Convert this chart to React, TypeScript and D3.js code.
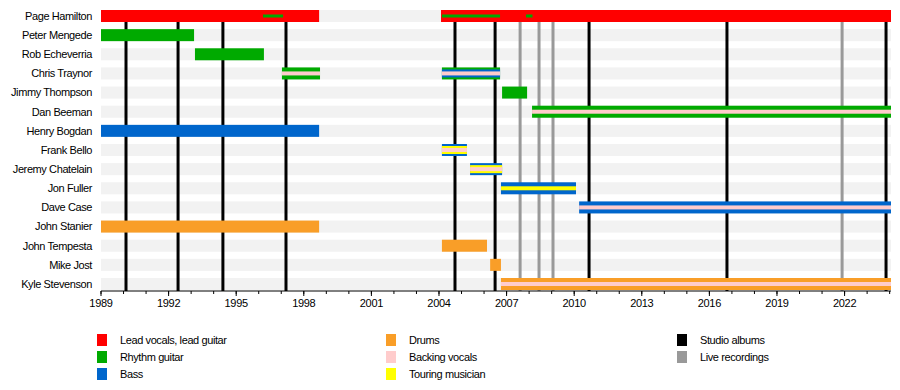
import React, { useEffect } from "react";
import * as d3 from "d3";

const members = [
  "Page Hamilton", "Peter Mengede", "Rob Echeverria", "Chris Traynor", "Jimmy Thompson",
  "Dan Beeman", "Henry Bogdan", "Frank Bello", "Jeremy Chatelain", "Jon Fuller",
  "Dave Case", "John Stanier", "John Tempesta", "Mike Jost", "Kyle Stevenson",
];

const END = 2024.06;

// [member, from, till, role, layer] layer 0 = full, 1 = medium, 2 = thin, 3 = thin line (guitar on vocals)
type Seg = [string, number, number, string, number];
const segments: Seg[] = [
  ["Page Hamilton", 1989, 1998.68, "vocals", 0],
  ["Page Hamilton", 2004.09, END, "vocals", 0],
  ["Page Hamilton", 1996.19, 1997.08, "rhythm", 3],
  ["Page Hamilton", 2004.13, 2006.71, "rhythm", 3],
  ["Page Hamilton", 2007.86, 2008.15, "rhythm", 3],
  ["Peter Mengede", 1989, 1993.13, "rhythm", 0],
  ["Rob Echeverria", 1993.17, 1996.23, "rhythm", 0],
  ["Chris Traynor", 1997.03, 1998.72, "rhythm", 0],
  ["Chris Traynor", 1997.03, 1998.72, "backing", 2],
  ["Chris Traynor", 2004.13, 2006.71, "rhythm", 0],
  ["Chris Traynor", 2004.13, 2006.71, "bass", 1],
  ["Chris Traynor", 2004.13, 2006.71, "backing", 2],
  ["Jimmy Thompson", 2006.8, 2007.91, "rhythm", 0],
  ["Dan Beeman", 2008.13, END, "rhythm", 0],
  ["Dan Beeman", 2008.13, END, "backing", 2],
  ["Henry Bogdan", 1989, 1998.68, "bass", 0],
  ["Frank Bello", 2004.13, 2005.24, "bass", 0],
  ["Frank Bello", 2004.13, 2005.24, "touring", 1],
  ["Frank Bello", 2004.13, 2005.24, "backing", 2],
  ["Jeremy Chatelain", 2005.38, 2006.8, "bass", 0],
  ["Jeremy Chatelain", 2005.38, 2006.8, "touring", 1],
  ["Jeremy Chatelain", 2005.38, 2006.8, "backing", 2],
  ["Jon Fuller", 2006.75, 2010.08, "bass", 0],
  ["Jon Fuller", 2006.75, 2010.08, "touring", 2],
  ["Dave Case", 2010.22, END, "bass", 0],
  ["Dave Case", 2010.22, END, "backing", 2],
  ["John Stanier", 1989, 1998.68, "drums", 0],
  ["John Tempesta", 2004.13, 2006.13, "drums", 0],
  ["Mike Jost", 2006.27, 2006.75, "drums", 0],
  ["Kyle Stevenson", 2006.75, END, "drums", 0],
  ["Kyle Stevenson", 2006.75, END, "backing", 2],
];

const studioAlbums = [1990.11, 1992.42, 1994.41, 1997.21, 2004.71, 2006.49, 2010.66, 2016.78, 2023.84];
const liveRecordings = [2007.6, 2008.44, 2009.06, 2021.89];

const majorTicks = [1989, 1992, 1995, 1998, 2001, 2004, 2007, 2010, 2013, 2016, 2019, 2022];
const minorTicks = d3.range(1989, 2025);

const roleColors: Record<string, string> = {
  vocals: "#ff0000",
  rhythm: "#00aa00",
  bass: "#0066cc",
  drums: "#f99e28",
  backing: "#ffcccc",
  touring: "#ffff00",
  studio: "#000000",
  live: "#999999",
};

const legendCols = [
  [["vocals", "Lead vocals, lead guitar"], ["rhythm", "Rhythm guitar"], ["bass", "Bass"]],
  [["drums", "Drums"], ["backing", "Backing vocals"], ["touring", "Touring musician"]],
  [["studio", "Studio albums"], ["live", "Live recordings"]],
];

const layerHeights = [12, 8, 4, 3];

export default function App() {
  useEffect(() => {
    document.body.style.margin = "0";
  }, []);

  const W = 900, H = 390;
  const x = d3.scaleLinear().domain([1989, END]).range([101, 891]);
  const y = d3.scalePoint<string>().domain(members).range([16, 284]);
  const axisY = 291;
  const font = "'Liberation Sans', Arial, sans-serif";

  return (
    <svg width={W} height={H} style={{ position: "absolute", left: 0, top: 0, background: "#fff" }}
      fontFamily={font}>
      <rect width={W} height={H} fill="#fff" />
      {/* row stripes */}
      {members.map((m) => (
        <rect key={"s" + m} x={x(1989)} y={y(m)! - 6} width={x(END) - x(1989)} height={12} fill="#f2f2f2" />
      ))}
      {/* album lines */}
      {liveRecordings.map((d) => (
        <line key={"l" + d} x1={x(d)} x2={x(d)} y1={10} y2={axisY} stroke={roleColors.live} strokeWidth={3} />
      ))}
      {studioAlbums.map((d) => (
        <line key={"a" + d} x1={x(d)} x2={x(d)} y1={10} y2={axisY} stroke={roleColors.studio} strokeWidth={3} />
      ))}
      {/* bars */}
      {segments.map(([m, f, t, role, layer], i) => {
        const h = layerHeights[layer];
        return (
          <rect key={"b" + i} x={x(f)} y={y(m)! - h / 2} width={x(t) - x(f)} height={h} fill={roleColors[role]} />
        );
      })}
      {/* labels */}
      {members.map((m) => (
        <text key={"t" + m} x={92} y={y(m)!} dy="0.35em" textAnchor="end" fontSize={11}
          letterSpacing={-0.4} fill="#000">{m}</text>
      ))}
      {/* axis */}
      <line x1={x(1989)} x2={x(END)} y1={axisY} y2={axisY} stroke="#000" strokeWidth={1} />
      {minorTicks.map((t) => (
        <line key={"mt" + t} x1={x(t)} x2={x(t)} y1={axisY} y2={axisY + 3} stroke="#000" strokeWidth={1} />
      ))}
      {majorTicks.map((t) => (
        <g key={"MT" + t}>
          <line x1={x(t)} x2={x(t)} y1={axisY} y2={axisY + 5} stroke="#000" strokeWidth={1} />
          <text x={x(t)} y={axisY + 16} textAnchor="middle" fontSize={11} letterSpacing={-0.3}>{t}</text>
        </g>
      ))}
      {/* legend */}
      {legendCols.map((col, ci) => {
        const lx = [97, 386, 677][ci];
        return col.map(([key, label], ri) => (
          <g key={"lg" + key}>
            <rect x={lx} y={334 + ri * 17} width={10} height={12} fill={roleColors[key]} />
            <text x={lx + 23} y={340 + ri * 17} dy="0.35em" fontSize={11} letterSpacing={-0.4}>{label}</text>
          </g>
        ));
      })}
    </svg>
  );
}
